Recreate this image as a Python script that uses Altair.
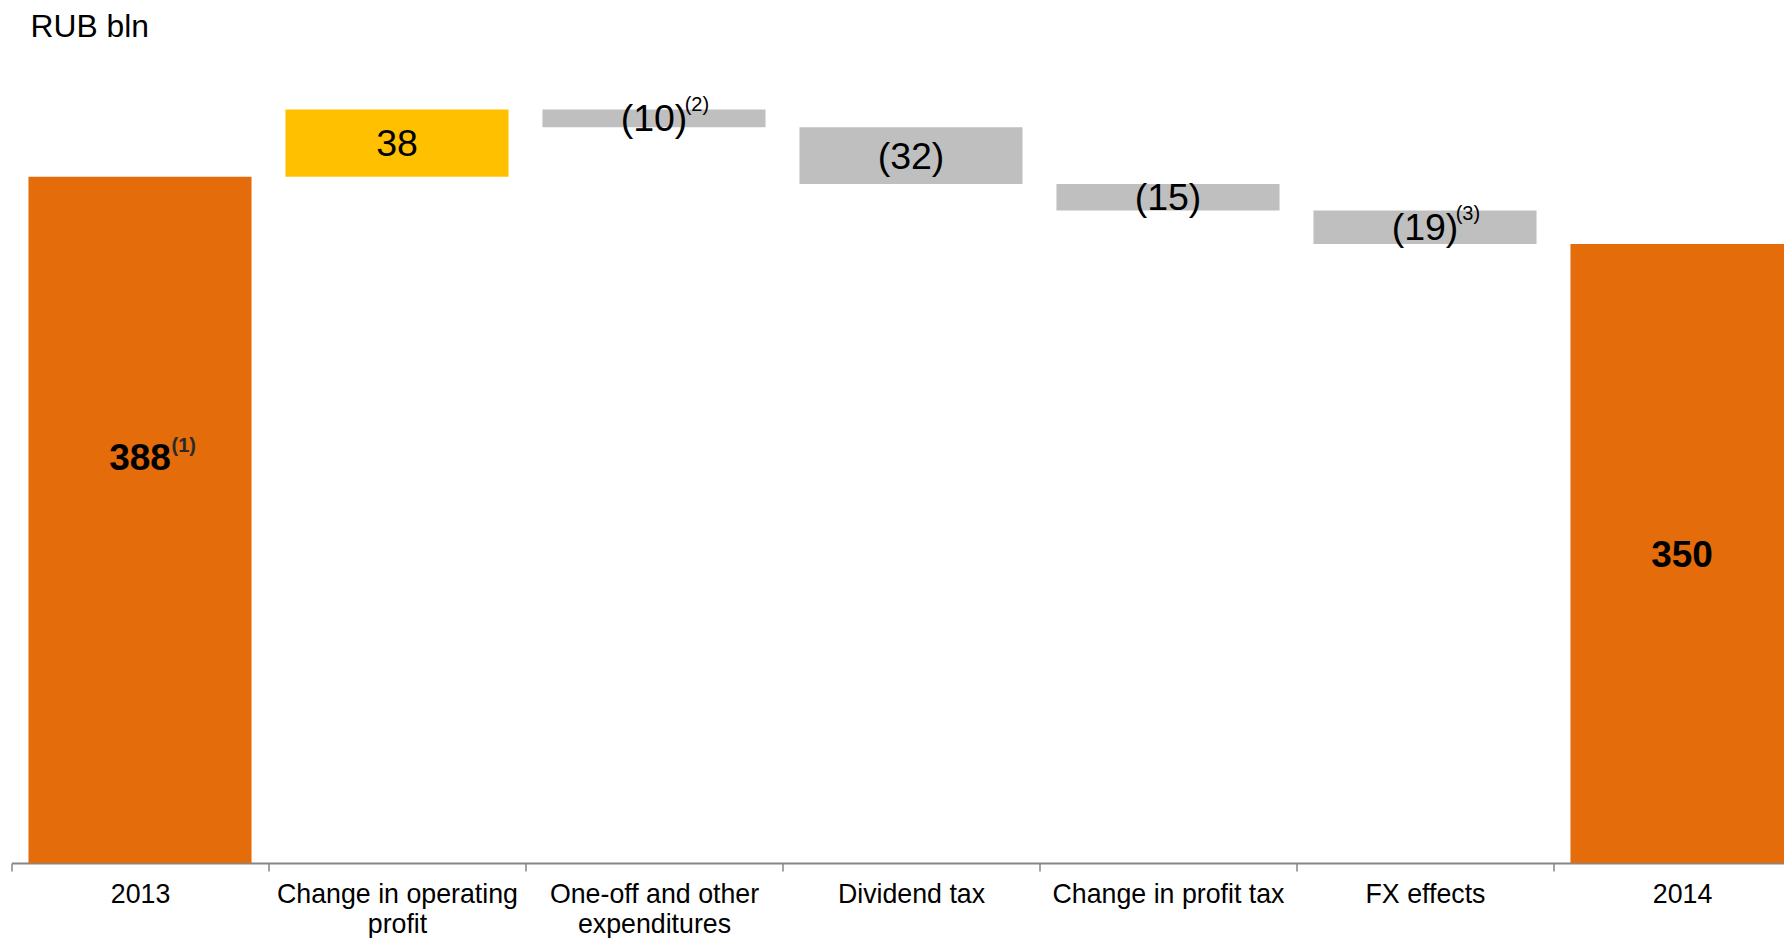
import altair as alt
import pandas as pd

FONT = "Liberation Sans"

# ---- data ----
title_text = "RUB bln"
categories = ["2013", "Change in operating profit", "One-off and other expenditures",
              "Dividend tax", "Change in profit tax", "FX effects", "2014"]
values = [388, 38, -10, -32, -15, -19, 350]
kinds = ["total", "increase", "decrease", "decrease", "decrease", "decrease", "total"]
value_labels = ["388", "38", "(10)", "(32)", "(15)", "(19)", "350"]
footnotes = ["(1)", "", "(2)", "", "", "(3)", ""]
first_label_anchor = 229.3  # the 2013 label sits above the middle of its bar
wrapped = {
    "Change in operating profit": ["Change in operating", "profit"],
    "One-off and other expenditures": ["One-off and other", "expenditures"],
}

# ---- build waterfall table ----
starts, ends = [], []
running = 0
for v, k in zip(values, kinds):
    if k == "total":
        s, e = 0, v
        running = v
    else:
        s, e = running, running + v
        running += v
    starts.append(s)
    ends.append(e)
label_pos = [(s + e) / 2 for s, e in zip(starts, ends)]
label_pos[0] = first_label_anchor

df = pd.DataFrame({
    "category": categories,
    "start": starts,
    "end": ends,
    "kind": kinds,
    "label": value_labels,
    "note": footnotes,
    "label_pos": label_pos,
})

label_expr = ""
for k, v in wrapped.items():
    label_expr += f"datum.label == '{k}' ? {v!r} : "
label_expr += "datum.label"

x = alt.X(
    "category:N", sort=categories,
    scale=alt.Scale(range=[0, 1799], paddingInner=0, paddingOuter=0),
    axis=alt.Axis(
        title=None, labelAngle=0, labelFont=FONT, labelFontSize=26.75, labelColor="#000000",
        labelPadding=10.5, labelLineHeight=30, labelExpr=label_expr,
        domainColor="#868686", domainWidth=2, tickColor="#868686", tickWidth=1.5,
        tickSize=8, tickBand="extent", grid=False, labelLimit=400,
    ),
)
yscale = alt.Scale(domain=[0, 454.06], nice=False, zero=True)

base = alt.Chart(df)

bars = base.mark_bar(width=alt.RelativeBandSize(0.868)).encode(
    x=x,
    y=alt.Y("start:Q", scale=yscale, axis=None),
    y2="end:Q",
    color=alt.Color("kind:N", scale=alt.Scale(domain=["total", "increase", "decrease"],
                                              range=["#E46C0A", "#FFC000", "#BFBFBF"]),
                    legend=None),
)

main_total = base.mark_text(font=FONT, fontSize=37, fontWeight="bold", baseline="middle",
                            align="center", dy=2, color="#000000").encode(
    x=x, y=alt.Y("label_pos:Q", scale=yscale, axis=None), text="label:N"
).transform_filter("datum.kind == 'total'")

main_delta = base.mark_text(font=FONT, fontSize=37.5, fontWeight="normal", baseline="middle",
                            align="center", dy=2, color="#000000").encode(
    x=x, y=alt.Y("label_pos:Q", scale=yscale, axis=None), text="label:N"
).transform_filter("datum.kind != 'total'")

note_total = base.mark_text(font=FONT, fontSize=20, fontWeight="bold", baseline="middle",
                            align="left", dx=31.5, dy=-11.5, color="#2a2a2a").encode(
    x=x, y=alt.Y("label_pos:Q", scale=yscale, axis=None), text="note:N"
).transform_filter("datum.kind == 'total' && datum.note != ''")

note_delta = base.mark_text(font=FONT, fontSize=20, fontWeight="normal", baseline="middle",
                            align="left", dx=30.7, dy=-13, color="#000000").encode(
    x=x, y=alt.Y("label_pos:Q", scale=yscale, axis=None), text="note:N"
).transform_filter("datum.kind != 'total' && datum.note != ''")

heading = alt.Chart(pd.DataFrame({"t": [title_text]})).mark_text(
    font=FONT, fontSize=31.8, align="left", baseline="alphabetic", color="#000000"
).encode(x=alt.value(19), y=alt.value(-23.3), text="t:N")

chart = alt.layer(bars, main_total, main_delta, note_total, note_delta, heading).properties(
    width=1772.5, height=803,
    padding={"left": 3.5, "top": 52, "right": 0, "bottom": 75},
    autosize=alt.AutoSizeParams(type="none"),
).configure_view(stroke=None)

chart.save("out.html", embed_options={"renderer": "svg", "actions": False})
